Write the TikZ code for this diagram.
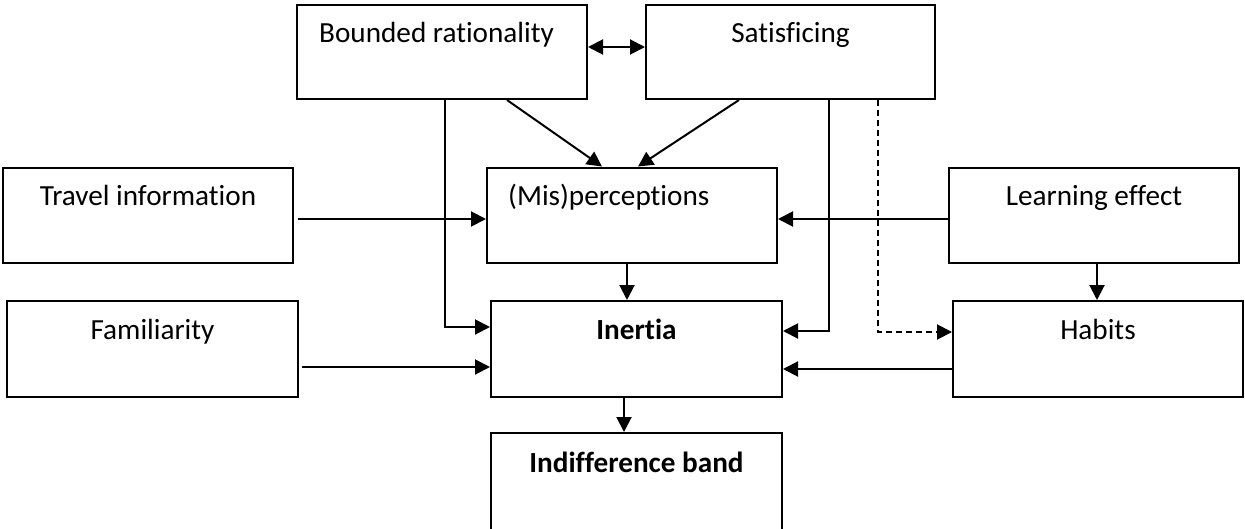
\documentclass[tikz,border=0pt]{standalone}
\usepackage{fontspec}
\setmainfont[Ligatures=CommonOff]{Carlito}
\usetikzlibrary{arrows.meta,calc}

\begin{document}
\begin{tikzpicture}[x=1pt, y=-1pt,
    every node/.style={font=\fontsize{29.2}{34}\selectfont},
    box/.style={draw, line width=2pt, minimum width=290pt, minimum height=95pt, inner sep=0pt},
    txt/.style={anchor=base, yshift=-39pt, inner sep=0pt},
    arr/.style={line width=2pt, -{Triangle[length=15pt,width=15pt]}}]
  \useasboundingbox (0,0) rectangle (1245,528);
  % Top row
  \node[box, minimum height=94pt, label={[txt, anchor=base west, xshift=-123pt, yshift=1pt]north:Bounded rationality}] (br) at (442,52) {};
  \node[box, minimum width=289pt, minimum height=94pt, label={[txt, yshift=1pt]north:Satisficing}] (sat) at (790.5,52) {};
  % Middle row
  \node[box, label={[txt]north:Travel information}] (trav) at (148,215) {};
  \node[box, label={[txt, anchor=base west, xshift=-124pt]north:(Mis)perceptions}] (mis) at (632,215) {};
  \node[box, label={[txt]north:Learning effect}] (learn) at (1094,215) {};
  % Lower row
  \node[box, minimum width=291pt, minimum height=96pt, label={[txt]north:Familiarity}] (fam) at (152.5,349) {};
  \node[box, minimum width=291pt, minimum height=96pt, label={[txt, font=\fontsize{29.2}{34}\selectfont\bfseries]north:Inertia}] (inert) at (636.5,349) {};
  \node[box, minimum height=96pt, label={[txt]north:Habits}] (hab) at (1098,349) {};
  % Bottom box (runs off the page)
  \node[box, minimum width=291pt, minimum height=110pt, label={[txt, yshift=-1pt, font=\fontsize{29.2}{34}\selectfont\bfseries]north:Indifference band}] (indiff) at (636.5,488) {};
  % Connectors
  \draw[line width=2pt, {Triangle[length=15pt,width=15pt]}-{Triangle[length=15pt,width=15pt]}] ($(br.east)+(0,-5)$) -- ($(sat.west)+(0,-5)$);
  \draw[arr] ($(br.south)+(65,0)$) -- ($(mis.north)+(-30,0)$);
  \draw[arr] ($(sat.south)+(-51.5,0)$) -- ($(mis.north)+(6,0)$);
  \draw[arr] ($(trav.east)+(4,4)$) -- ($(mis.west)+(0,4)$);
  \draw[arr] ($(learn.west)+(0,4)$) -- ($(mis.east)+(0,4)$);
  \draw[arr] ($(mis.south)+(-5,0)$) -- ($(inert.north)+(-9.5,0)$);
  \draw[arr] ($(br.south)+(3,0)$) |- ($(inert.west)+(0,-22)$);
  \draw[arr] ($(fam.east)+(3,18)$) -- ($(inert.west)+(0,18)$);
  \draw[arr] ($(sat.south)+(38.5,0)$) |- ($(inert.east)+(0,-18)$);
  \draw[arr, dash pattern=on 6pt off 4pt] ($(sat.south)+(87.5,0)$) |- ($(hab.west)+(0,-17)$);
  \draw[arr] ($(hab.west)+(0,20)$) -- ($(inert.east)+(0,20)$);
  \draw[arr] ($(learn.south)+(3,0)$) -- ($(hab.north)+(-1,0)$);
  \draw[arr] ($(inert.south)+(-12.5,0)$) -- ($(indiff.north)+(-12.5,0)$);
\end{tikzpicture}
\end{document}
